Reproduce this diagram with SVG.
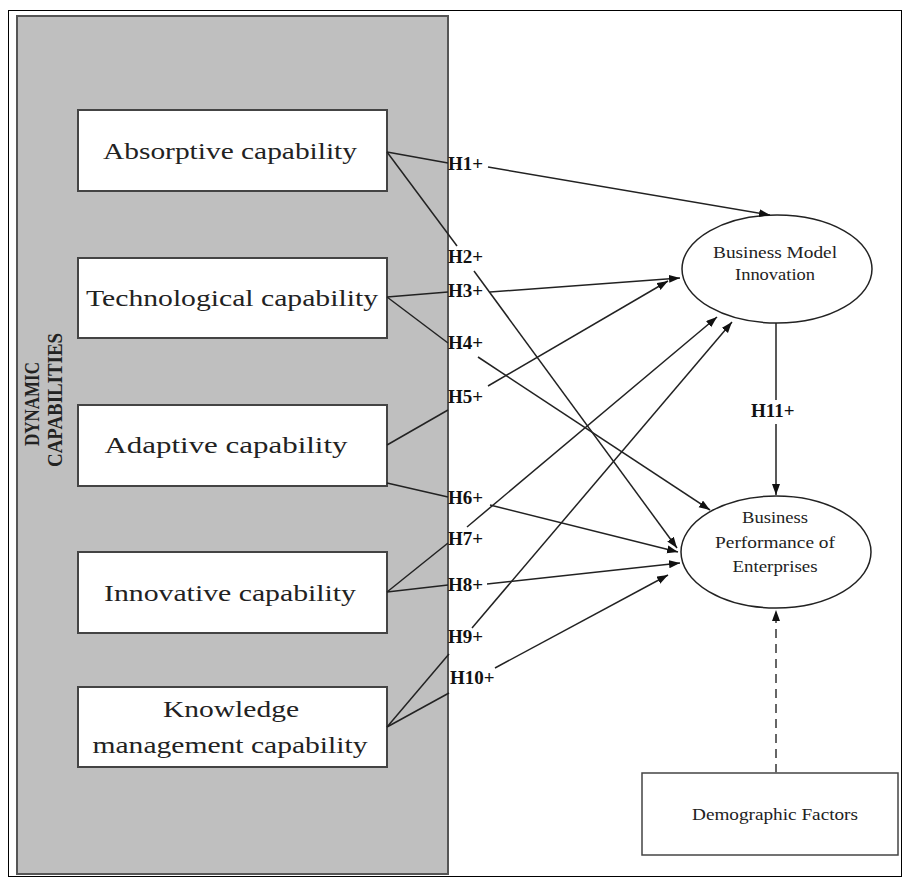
<svg xmlns="http://www.w3.org/2000/svg" width="903" height="877" viewBox="0 0 903 877">
<defs>
<style>
.box{fill:#fff;stroke:#444;stroke-width:2}
.bt{font-family:"Liberation Serif",serif;font-size:24px;fill:#222;text-anchor:middle}
.hl{font-family:"Liberation Serif",serif;font-size:19px;font-weight:bold;fill:#111}
.el{fill:#fff;stroke:#222;stroke-width:1.5}
.et{font-family:"Liberation Serif",serif;font-size:16px;fill:#222;text-anchor:middle}
.ln{stroke:#222;stroke-width:1.5;fill:none}
.vt{font-family:"Liberation Serif",serif;font-size:20px;font-weight:bold;fill:#222;text-anchor:middle}
</style>
<marker id="ah" markerUnits="userSpaceOnUse" markerWidth="12" markerHeight="9" refX="11" refY="4" orient="auto">
<path d="M0,0 L11,4 L0,8 z" fill="#111"/>
</marker>
</defs>
<rect x="0" y="0" width="903" height="877" fill="#fff"/>
<rect x="8.5" y="10.5" width="893" height="866" fill="none" stroke="#000" stroke-width="1"/>
<g id="dynamic-capabilities">
<rect x="17" y="16" width="431" height="858" fill="#bfbfbf" stroke="#555" stroke-width="2"/>
<text class="vt" transform="translate(39,404) rotate(-90)" textLength="84" lengthAdjust="spacingAndGlyphs">DYNAMIC</text>
<text class="vt" transform="translate(62,400) rotate(-90)" textLength="134" lengthAdjust="spacingAndGlyphs">CAPABILITIES</text>
</g>
<g id="absorptive">
<rect class="box" x="78" y="110" width="309" height="81"/>
<text class="bt" x="230" y="159" textLength="254" lengthAdjust="spacingAndGlyphs">Absorptive capability</text>
</g>
<g id="technological">
<rect class="box" x="78" y="258" width="309" height="80"/>
<text class="bt" x="232" y="306" textLength="292" lengthAdjust="spacingAndGlyphs">Technological capability</text>
</g>
<g id="adaptive">
<rect class="box" x="78" y="405" width="309" height="81"/>
<text class="bt" x="226" y="453" textLength="243" lengthAdjust="spacingAndGlyphs">Adaptive capability</text>
</g>
<g id="innovative">
<rect class="box" x="78" y="552" width="309" height="81"/>
<text class="bt" x="230" y="601" textLength="252" lengthAdjust="spacingAndGlyphs">Innovative capability</text>
</g>
<g id="knowledge">
<rect class="box" x="78" y="687" width="309" height="80"/>
<text class="bt" x="231" y="717" textLength="136" lengthAdjust="spacingAndGlyphs">Knowledge</text>
<text class="bt" x="230" y="753" textLength="275" lengthAdjust="spacingAndGlyphs">management capability</text>
</g>
<g id="bmi">
<ellipse class="el" cx="777" cy="269" rx="95" ry="54"/>
<text class="et" x="775" y="258" textLength="124" lengthAdjust="spacingAndGlyphs">Business Model</text>
<text class="et" x="775" y="280" textLength="80" lengthAdjust="spacingAndGlyphs">Innovation</text>
</g>
<g id="bpe">
<ellipse class="el" cx="776" cy="552" rx="95" ry="56"/>
<text class="et" x="775" y="523" textLength="66" lengthAdjust="spacingAndGlyphs">Business</text>
<text class="et" x="775" y="548" textLength="120" lengthAdjust="spacingAndGlyphs">Performance of</text>
<text class="et" x="775" y="572" textLength="85" lengthAdjust="spacingAndGlyphs">Enterprises</text>
</g>
<g id="demographic">
<rect x="642" y="773" width="256" height="82" fill="#fff" stroke="#444" stroke-width="1.5"/>
<text class="et" x="775" y="820" textLength="166" lengthAdjust="spacingAndGlyphs">Demographic Factors</text>
</g>
<g id="connectors">
<path class="ln" d="M387,152 L448,163"/>
<path class="ln" d="M488,167 L770,215" marker-end="url(#ah)"/>
<path class="ln" d="M387,152 L457,246"/>
<path class="ln" d="M474,271 L677,548" marker-end="url(#ah)"/>
<path class="ln" d="M387,297 L448,292"/>
<path class="ln" d="M490,292 L680,278" marker-end="url(#ah)"/>
<path class="ln" d="M387,297 L448,343"/>
<path class="ln" d="M478,357 L710,510" marker-end="url(#ah)"/>
<path class="ln" d="M387,445 L448,410"/>
<path class="ln" d="M488,386 L668,281" marker-end="url(#ah)"/>
<path class="ln" d="M387,483 L448,497"/>
<path class="ln" d="M490,505 L678,552" marker-end="url(#ah)"/>
<path class="ln" d="M387,592 L448,543"/>
<path class="ln" d="M467,527 L717,317" marker-end="url(#ah)"/>
<path class="ln" d="M387,592 L448,585"/>
<path class="ln" d="M487,584 L680,563" marker-end="url(#ah)"/>
<path class="ln" d="M387,727 L449,654"/>
<path class="ln" d="M472,628 L732,322" marker-end="url(#ah)"/>
<path class="ln" d="M387,727 L449,693"/>
<path class="ln" d="M495,668 L668,575" marker-end="url(#ah)"/>
<path class="ln" d="M776,323 L776,400"/>
<path class="ln" d="M776,424 L776,495" marker-end="url(#ah)"/>
<path d="M776,773 L776,610" stroke="#666" stroke-width="2" stroke-dasharray="9,6" fill="none" marker-end="url(#ah)"/>
</g>
<g id="labels">
<text class="hl" x="448" y="170">H1+</text>
<text class="hl" x="448" y="263">H2+</text>
<text class="hl" x="448" y="297">H3+</text>
<text class="hl" x="448" y="349">H4+</text>
<text class="hl" x="448" y="403">H5+</text>
<text class="hl" x="448" y="504">H6+</text>
<text class="hl" x="448" y="545">H7+</text>
<text class="hl" x="448" y="591">H8+</text>
<text class="hl" x="448" y="643">H9+</text>
<text class="hl" x="450" y="684">H10+</text>
<text class="hl" x="751" y="417">H11+</text>
</g>
</svg>
